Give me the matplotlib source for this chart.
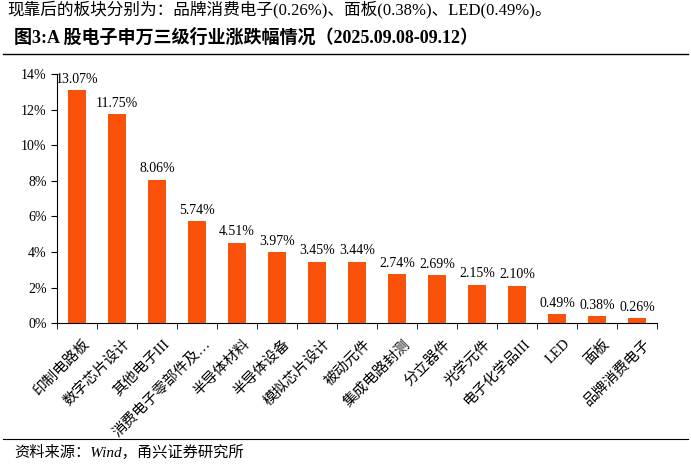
import matplotlib
matplotlib.use('Agg')
import matplotlib.pyplot as plt
import numpy as np

plt.rcParams['font.family'] = ['Liberation Serif', 'Noto Sans CJK SC']

categories = ['印制电路板', '数字芯片设计', '其他电子III', '消费电子零部件及…', '半导体材料',
              '半导体设备', '模拟芯片设计', '被动元件', '集成电路封测', '分立器件',
              '光学元件', '电子化学品III', 'LED', '面板', '品牌消费电子']
values = [13.07, 11.75, 8.06, 5.74, 4.51, 3.97, 3.45, 3.44, 2.74, 2.69, 2.15, 2.10, 0.49, 0.38, 0.26]
yticks = [0, 2, 4, 6, 8, 10, 12, 14]

fig = plt.figure(figsize=(6.91, 4.71), dpi=100)
ax = fig.add_axes([0.0825, 0.314, 0.869, 0.529])

x = np.arange(len(categories))
ax.bar(x, values, width=0.45, color='#FA520A')
for xi, v in zip(x, values):
    ax.text(xi, v + 0.25, f'{v:.2f}%', ha='center', va='bottom', fontsize=10)

ax.set_xlim(-0.5, len(categories) - 0.5)
ax.set_ylim(0, 14)
ax.set_yticks(yticks)
ax.set_yticklabels([f'{t}%' for t in yticks], fontsize=10)
ax.set_xticks(x + 0.15)
ax.set_xticklabels(categories, rotation=45, ha='right', rotation_mode='anchor', fontsize=10.5)
ax.set_xticks(np.arange(len(categories) + 1) - 0.5, minor=True)
ax.tick_params(axis='x', which='major', length=0, pad=10)
ax.tick_params(axis='x', which='minor', length=4, direction='out')
ax.tick_params(axis='y', length=4, direction='out')
for s in ['top', 'right']:
    ax.spines[s].set_visible(False)

fig.text(0.01, 0.998, '现靠后的板块分别为：品牌消费电子(0.26%)、面板(0.38%)、LED(0.49%)。',
         fontsize=12, va='top', ha='left')
fig.text(0.02, 0.94, '图3:A 股电子申万三级行业涨跌幅情况（2025.09.08-09.12）',
         fontsize=13, fontweight='bold', va='top', ha='left')
fig.add_artist(plt.Line2D([0.005, 0.995], [0.885, 0.885], color='black', lw=1))
fig.add_artist(plt.Line2D([0.005, 0.995], [0.069, 0.069], color='black', lw=0.8))
fig.text(0.02, 0.04, '资料来源：Wind，甬兴证券研究所', fontsize=11, style='italic',
         va='center', ha='left')

fig.savefig('out.png', dpi=100)
